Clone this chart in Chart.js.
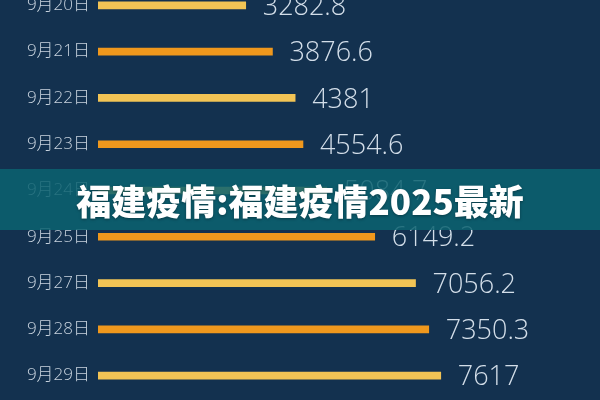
<!DOCTYPE html>
<html>
<head>
<meta charset="utf-8">
<script src="https://cdn.jsdelivr.net/npm/chart.js@4/dist/chart.umd.min.js"></script>
<style>
  html,body{margin:0;padding:0;background:#13314f;}
  #wrap{position:relative;width:600px;height:400px;overflow:hidden;background:#13314f;}
  #box{position:absolute;left:0;top:-36px;width:600px;height:453px;}
  #banner{position:absolute;left:0;top:169px;width:600px;height:61px;background:rgba(12,98,112,0.86);
    color:#fff;font:900 35px "Noto Sans CJK SC",sans-serif;text-align:center;line-height:61px;
    text-shadow:0 1px 3px rgba(0,0,0,0.35);}
</style>
</head>
<body>
<div id="wrap">
  <div id="box"><canvas id="c"></canvas></div>
  <div id="banner">福建疫情:福建疫情2025最新</div>
</div>
<script>
// ─── DATA ───────────────────────────────────────────────────────────────
const days=['9月20日','9月21日','9月22日','9月23日','9月24日','9月25日','9月27日','9月28日','9月29日'];
const cases=[3282.8,3876.6,4381,4554.6,5084.7,6149.2,7056.2,7350.3,7617];
const labelsTxt=['3282.8','3876.6','4381','4554.6','5084.7','6149.2','7056.2','7350.3','7617'];
const YEL='#f2c455', ORA='#ef981d';
const barCols=days.map((_,i)=>i%2?ORA:YEL);

// value labels at the bar tips
const valueTags={
  id:'valueTags',
  afterDatasetsDraw(ch){
    const ctx=ch.ctx, meta=ch.getDatasetMeta(0);
    ctx.save();
    ctx.font='300 27px "Open Sans","Noto Sans",sans-serif';
    ctx.fillStyle='#d3dee9'; ctx.textBaseline='middle'; ctx.textAlign='left';
    meta.data.forEach((b,i)=>ctx.fillText(labelsTxt[i],b.x+17,b.y+2));
    ctx.restore();
  }
};

new Chart(document.getElementById('c').getContext('2d'),{
  type:'bar',
  data:{labels:days,datasets:[{data:cases,backgroundColor:barCols,barThickness:7,borderWidth:0}]},
  options:{
    indexAxis:'y',responsive:true,maintainAspectRatio:false,animation:false,
    layout:{padding:{left:0,right:52,top:0,bottom:0}},
    plugins:{legend:{display:false},tooltip:{enabled:false}},
    scales:{
      x:{display:false,min:0,max:10000},
      y:{
        offset:true,
        grid:{display:false,drawTicks:false},border:{display:false},
        ticks:{color:'#c9d4df',padding:8,font:{family:'"Open Sans","Noto Sans CJK SC",sans-serif',size:17,weight:300}},
        afterFit:s=>{s.width=98;}
      }
    }
  },
  plugins:[valueTags]
});
</script>
</body>
</html>
